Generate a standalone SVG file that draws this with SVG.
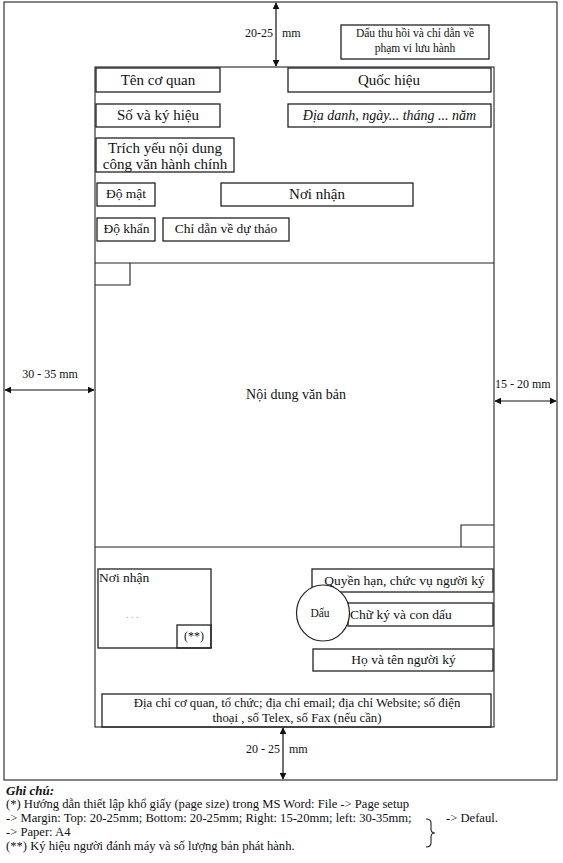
<svg xmlns="http://www.w3.org/2000/svg" width="563" height="863" viewBox="0 0 563 863">
<style>
  text { font-family: "Liberation Serif", "Times New Roman", serif; fill: #111; }
  .box { fill: none; stroke: #222; stroke-width: 1.3; }
  .ln { fill: none; stroke: #222; stroke-width: 1.1; }
  .dim { fill: none; stroke: #111; stroke-width: 1.2; }
  .c { text-anchor: middle; }
  .t15 { font-size: 15px; }
  .t14 { font-size: 14px; }
  .t13 { font-size: 13.5px; }
  .t12 { font-size: 12px; }
  .t11 { font-size: 11.5px; }
  .ft { font-size: 12.8px; }
  .note { font-size: 12.6px; }
</style>
<defs>
  <marker id="ah" viewBox="0 0 10 10" refX="9" refY="5" markerWidth="7" markerHeight="7" orient="auto-start-reverse" markerUnits="userSpaceOnUse">
    <path d="M0,0 L10,5 L0,10 Z" fill="#111"/>
  </marker>
</defs>

<rect fill="#fff" x="0" y="0" width="563" height="863"/>

<g id="page">
  <rect class="ln" x="4" y="2" width="553" height="778"/>
  <rect class="ln" x="95" y="67" width="399" height="660"/>
  <line class="ln" x1="95" y1="263" x2="494" y2="263"/>
  <line class="ln" x1="95" y1="547" x2="494" y2="547"/>
  <polyline class="ln" points="130,263 130,285 95,285"/>
  <polyline class="ln" points="494,525 461,525 461,547"/>
</g>

<g id="connectors">
  <line class="dim" x1="276" y1="3" x2="276" y2="66" marker-start="url(#ah)" marker-end="url(#ah)"/>
  <line class="dim" x1="5" y1="390" x2="94" y2="390" marker-start="url(#ah)" marker-end="url(#ah)"/>
  <line class="dim" x1="495" y1="401" x2="556" y2="401" marker-start="url(#ah)" marker-end="url(#ah)"/>
  <line class="dim" x1="283" y1="728" x2="283" y2="779" marker-start="url(#ah)" marker-end="url(#ah)"/>
</g>

<g id="dim-labels">
  <text class="t12" x="273" y="37" text-anchor="end">20-25</text>
  <text class="t12" x="282" y="37">mm</text>
  <text class="t12 c" x="50" y="378">30 - 35 mm</text>
  <text class="t12" x="495" y="388">15 - 20 mm</text>
  <text class="t12" x="280" y="753" text-anchor="end">20 - 25</text>
  <text class="t12" x="289" y="753">mm</text>
</g>

<g id="dau-thu-hoi">
  <rect class="box" x="341" y="25" width="148" height="34"/>
  <text class="t11 c" x="415" y="37">Dấu thu hồi và chỉ dẫn về</text>
  <text class="t11 c" x="415" y="52">phạm vi lưu hành</text>
</g>

<g id="ten-co-quan">
  <rect class="box" x="96" y="68" width="124" height="24"/>
  <text class="t15 c" x="158" y="85">Tên cơ quan</text>
</g>

<g id="quoc-hieu">
  <rect class="box" x="288" y="68" width="203" height="24"/>
  <text class="t15 c" x="389" y="85">Quốc hiệu</text>
</g>

<g id="so-ky-hieu">
  <rect class="box" x="96" y="104" width="124" height="23"/>
  <text class="t15 c" x="158" y="120">Số và ký hiệu</text>
</g>

<g id="dia-danh">
  <rect class="box" x="288" y="104" width="203" height="23"/>
  <text class="t14 c" x="389.5" y="120" font-style="italic">Địa danh, ngày... tháng ... năm</text>
</g>

<g id="trich-yeu">
  <rect class="box" x="96" y="138" width="138" height="34"/>
  <text class="t15 c" x="165" y="153">Trích yếu nội dung</text>
  <text class="t15 c" x="165" y="169">công văn hành chính</text>
</g>

<g id="do-mat">
  <rect class="box" x="97" y="183" width="58" height="23"/>
  <text class="t13 c" x="126" y="198">Độ mật</text>
</g>

<g id="noi-nhan-top">
  <rect class="box" x="221" y="183" width="192" height="23"/>
  <text class="t15 c" x="317" y="199">Nơi nhận</text>
</g>

<g id="do-khan">
  <rect class="box" x="97" y="218" width="58" height="23"/>
  <text class="t13 c" x="126.5" y="233">Độ khẩn</text>
</g>

<g id="chi-dan">
  <rect class="box" x="163" y="218" width="126" height="23"/>
  <text class="t13 c" x="226" y="233">Chỉ dẫn về dự thảo</text>
</g>

<g id="noi-dung">
  <text class="t14 c" x="296" y="399">Nội dung văn bản</text>
</g>

<g id="noi-nhan-bottom">
  <rect class="box" x="98" y="569" width="113" height="79"/>
  <rect class="box" x="177" y="625" width="34" height="23"/>
  <text class="t13" x="99" y="582">Nơi nhận</text>
  <text x="126" y="618" font-size="10" style="fill:#999">. . .</text>
  <text class="t12 c" x="194" y="640">(**)</text>
</g>

<g id="quyen-han">
  <rect class="box" x="312" y="569" width="181" height="23"/>
  <text class="t13 c" x="404.5" y="585">Quyền hạn, chức vụ người ký</text>
</g>

<g id="chu-ky">
  <rect class="box" x="348" y="603" width="145" height="23"/>
  <text class="t13" x="350" y="619">Chữ ký và con dấu</text>
</g>

<g id="dau">
  <ellipse cx="323" cy="613" rx="26.5" ry="28" fill="#fff" stroke="#222" stroke-width="1.2"/>
  <text class="t11 c" x="320" y="617">Dấu</text>
</g>

<g id="ho-ten">
  <rect class="box" x="313" y="649" width="180" height="22"/>
  <text class="t13 c" x="403.5" y="664">Họ và tên người ký</text>
</g>

<g id="dia-chi">
  <rect class="box" x="102" y="694" width="389" height="33"/>
  <text class="ft c" x="297" y="707">Địa chỉ cơ quan, tổ chức; địa chỉ email; địa chỉ Website; số điện</text>
  <text class="ft c" x="297" y="722">thoại , số Telex, số Fax (nếu cần)</text>
</g>

<g id="ghi-chu">
  <text x="6" y="795" font-size="13px" font-weight="bold" font-style="italic">Ghi chú:</text>
  <text class="note" x="6" y="808">(*) Hướng dẫn thiết lập khổ giấy (page size) trong MS Word: File -&gt; Page setup</text>
  <text class="note" x="6" y="822">-&gt; Margin: Top: 20-25mm; Bottom: 20-25mm; Right: 15-20mm; left: 30-35mm;</text>
  <text class="note" x="6" y="836">-&gt; Paper: A4</text>
  <text class="note" x="6" y="850">(**) Ký hiệu người đánh máy và số lượng bản phát hành.</text>
  <path d="M426,819 Q431,819 431,823 L431,829 Q431,833 435,833 Q431,833 431,837 L431,843 Q431,847 426,847" fill="none" stroke="#222" stroke-width="1.1"/>
  <text class="note" x="446" y="822">-&gt; Defaul.</text>
</g>
</svg>
